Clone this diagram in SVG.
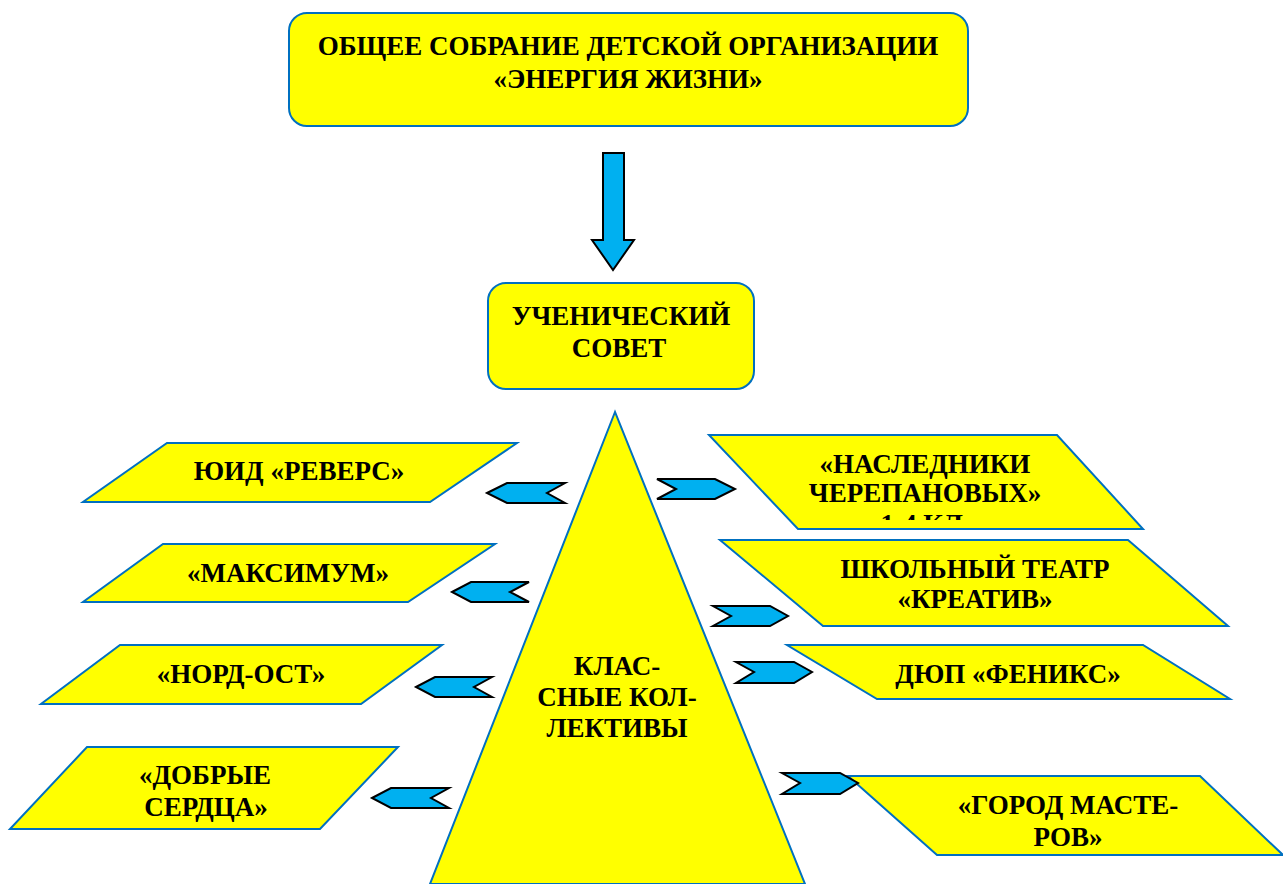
<svg xmlns="http://www.w3.org/2000/svg" width="1283" height="884" viewBox="0 0 1283 884">
<style>
.box{fill:#ffff00;stroke:#0070c0;stroke-width:2}
.t{font-family:"Liberation Serif","Times New Roman",serif;font-weight:bold;font-size:27px;fill:#000;text-anchor:middle}
.arr{fill:#00b0f0;stroke:#000;stroke-width:2;stroke-linejoin:miter}
</style>
<defs>
<clipPath id="clipNasl"><rect x="700" y="430" width="460" height="90"/></clipPath>
</defs>
<rect width="1283" height="884" fill="#fff"/>
<g id="n-general">
<rect class="box" x="289" y="13" width="679" height="113" rx="18"/>
<text class="t" x="628" y="55">ОБЩЕЕ СОБРАНИЕ ДЕТСКОЙ ОРГАНИЗАЦИИ</text>
<text class="t" x="628" y="88">«ЭНЕРГИЯ ЖИЗНИ»</text>
</g>
<g id="n-council">
<rect class="box" x="488" y="283" width="266" height="106" rx="18"/>
<text class="t" x="621" y="325">УЧЕНИЧЕСКИЙ</text>
<text class="t" x="619" y="357">СОВЕТ</text>
</g>
<g id="n-classes">
<polygon class="box" points="615,412 430,884 805,884"/>
<text class="t" x="617" y="675">КЛАС-</text>
<text class="t" x="617" y="706">СНЫЕ КОЛ-</text>
<text class="t" x="617" y="737">ЛЕКТИВЫ</text>
</g>
<g id="n-reverse">
<polygon class="box" points="167,443 517,443 430,502 83,502"/>
<text class="t" x="299" y="480">ЮИД «РЕВЕРС»</text>
</g>
<g id="n-maximum">
<polygon class="box" points="163,544 495,544 408,602 83,602"/>
<text class="t" x="288" y="582">«МАКСИМУМ»</text>
</g>
<g id="n-nordost">
<polygon class="box" points="120,645 442,645 361,704 41,704"/>
<text class="t" x="241" y="683">«НОРД-ОСТ»</text>
</g>
<g id="n-dobrye">
<polygon class="box" points="87,747 398,747 320,829 10,829"/>
<text class="t" x="205" y="784">«ДОБРЫЕ</text>
<text class="t" x="206" y="816">СЕРДЦА»</text>
</g>
<g id="n-nasledniki">
<polygon class="box" points="709,435 1057,435 1143,529 798,529"/>
<text class="t" x="925" y="473">«НАСЛЕДНИКИ</text>
<text class="t" x="925" y="502">ЧЕРЕПАНОВЫХ»</text>
<text class="t" x="925" y="533" clip-path="url(#clipNasl)">1-4 КЛ.</text>
</g>
<g id="n-teatr">
<polygon class="box" points="720,540 1128,540 1228,626 823,626"/>
<text class="t" x="975" y="578">ШКОЛЬНЫЙ ТЕАТР</text>
<text class="t" x="975" y="608">«КРЕАТИВ»</text>
</g>
<g id="n-feniks">
<polygon class="box" points="787,645 1143,645 1230,699 877,699"/>
<text class="t" x="1008" y="683">ДЮП «ФЕНИКС»</text>
</g>
<g id="n-gorod">
<polygon class="box" points="848,776 1200,776 1283,855 937,855"/>
<text class="t" x="1068" y="814">«ГОРОД МАСТЕ-</text>
<text class="t" x="1068" y="846">РОВ»</text>
</g>
<g id="connectors">
<polygon class="arr" points="603,153 624,153 624,240 634,240 613,270 592,240 603,240"/>
<polygon class="arr" points="487,493 507,483 565,483 547,493 565,503 507,503"/>
<polygon class="arr" points="452,592 471,582 529,582 510,592 529,602 471,602"/>
<polygon class="arr" points="416,687 435,677 492,677 474,687 492,697 435,697"/>
<polygon class="arr" points="372,798 391,788 449,788 431,798 449,808 391,808"/>
<polygon class="arr" points="657,479 715,479 735,489 715,499 657,499 676,489"/>
<polygon class="arr" points="713,606 770,606 788,616 770,626 713,626 731,616"/>
<polygon class="arr" points="736,662 794,662 812,672 794,683 736,683 754,672"/>
<polygon class="arr" points="782,773 840,773 858,783 840,794 782,794 800,783"/>
</g>
</svg>
